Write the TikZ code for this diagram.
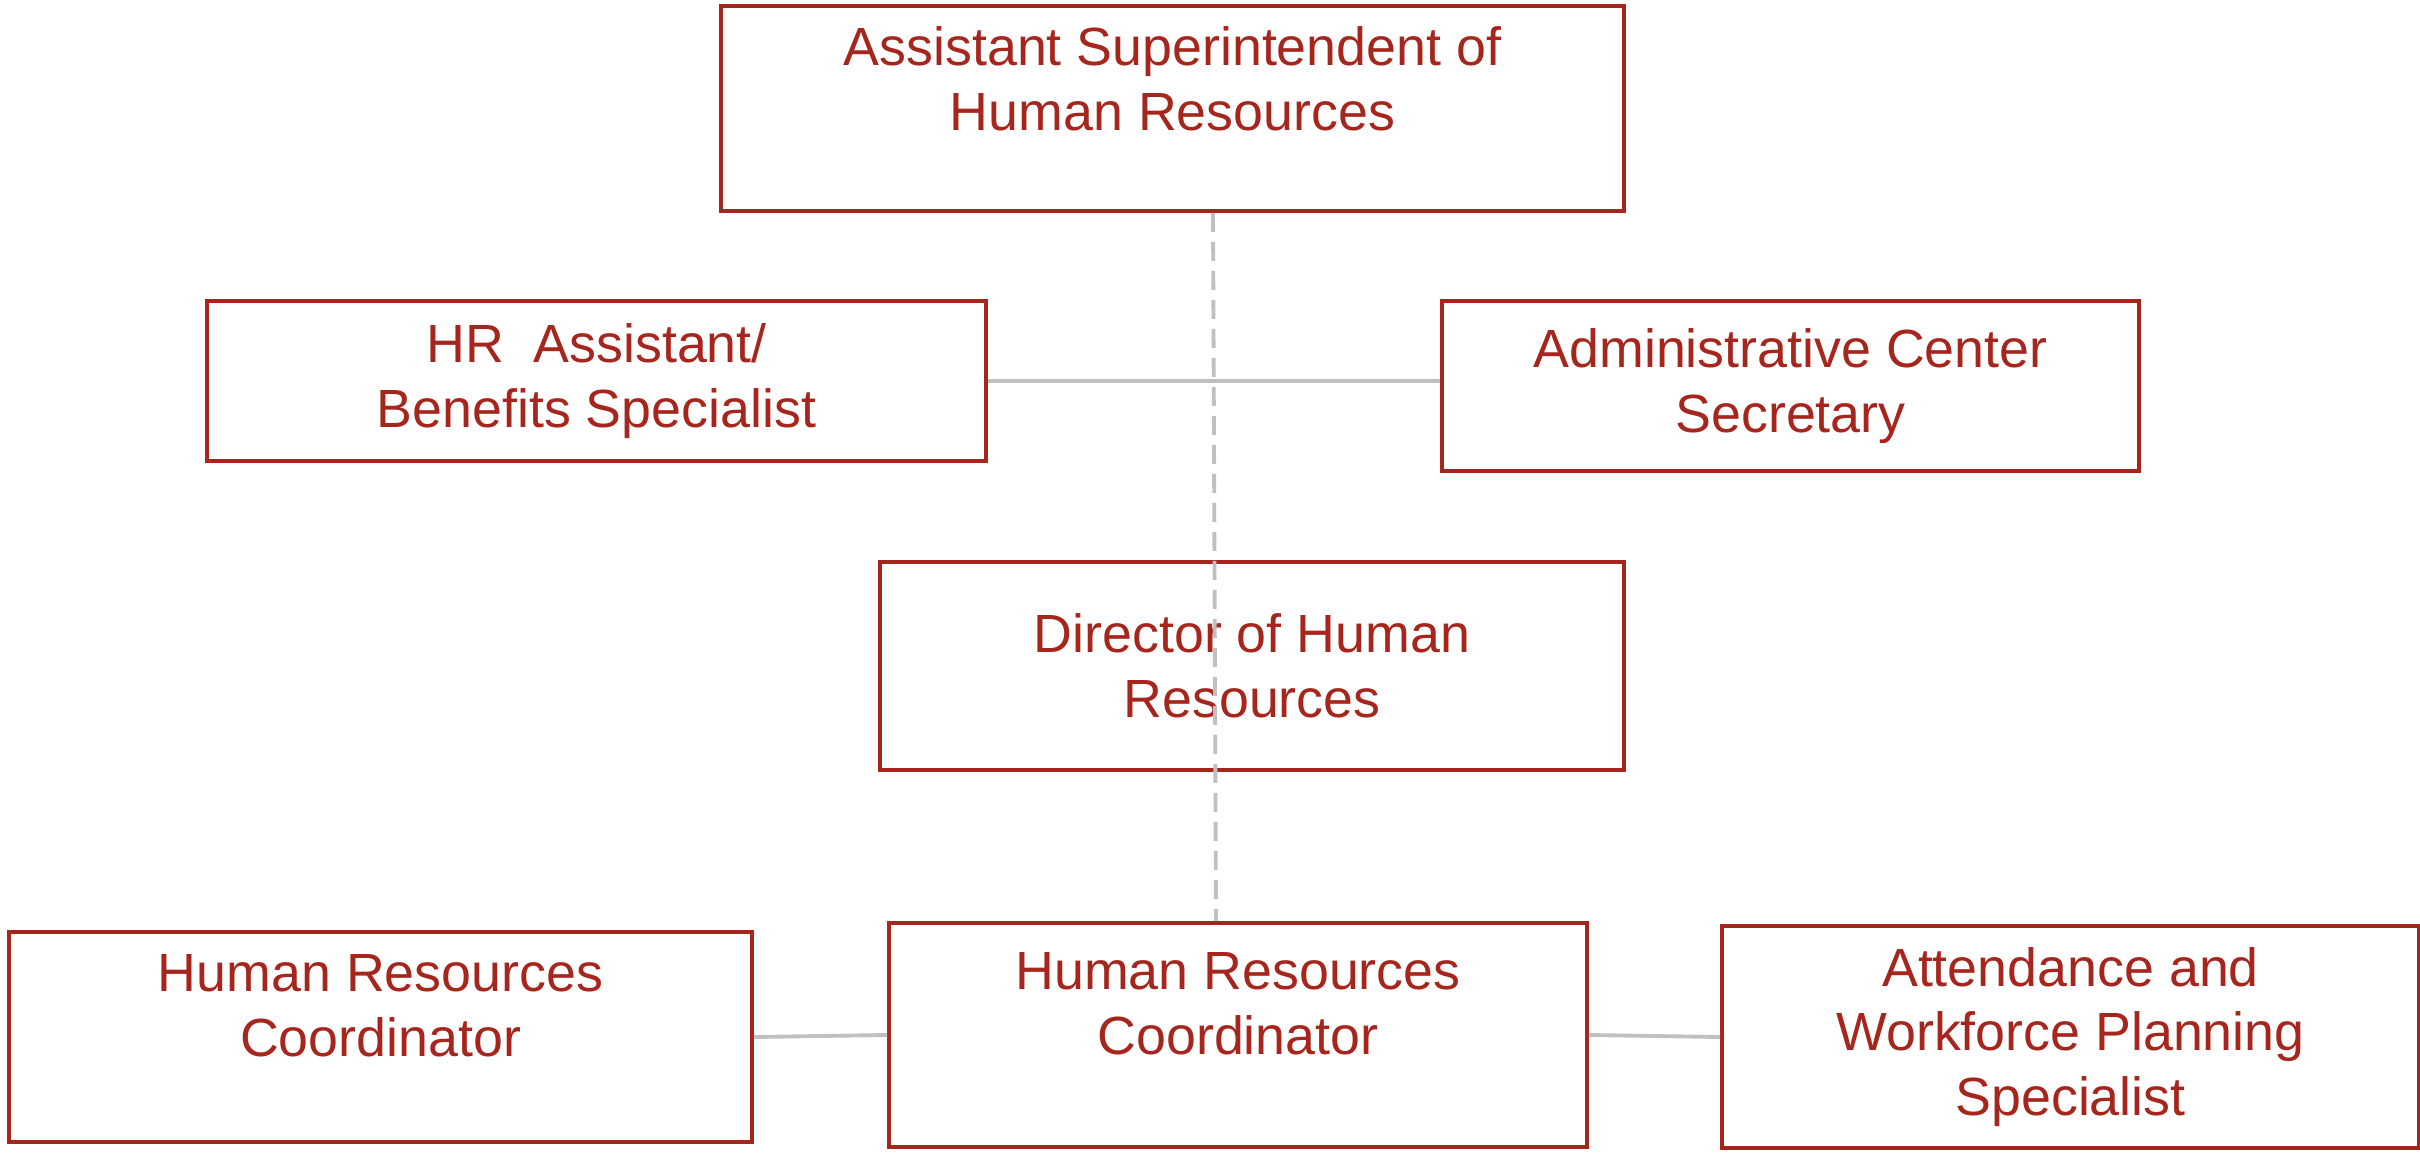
\documentclass[tikz,border=0pt]{standalone}
\usepackage{fontspec}
\setmainfont{Liberation Sans}
\usetikzlibrary{positioning,calc}
\definecolor{hrred}{RGB}{166,38,30}
\definecolor{linkgray}{RGB}{192,192,192}

\begin{document}
\begin{tikzpicture}
  \useasboundingbox (0,0) rectangle (24.2,-11.55);
  \begin{scope}[
    every node/.style={
      draw=hrred,
      line width=1.1pt,
      inner sep=0pt,
    },
    ]
    \node[minimum width=9.03cm,minimum height=2.05cm] (asst) at (11.725,-1.085) {};
    \node[minimum width=7.79cm,minimum height=1.60cm] (benefits) at (5.965,-3.81) {};
    \node[minimum width=6.97cm,minimum height=1.70cm] (secretary) at (17.905,-3.86) {};
    \node[minimum width=7.44cm,minimum height=2.08cm] (director) at (12.52,-6.66) {};
    \node[minimum width=7.43cm,minimum height=2.10cm] (coord-left) at (3.805,-10.37) {};
    \node[minimum width=6.98cm,minimum height=2.24cm] (coord-mid) at (12.38,-10.35) {};
    \node[minimum width=6.97cm,minimum height=2.22cm] (attendance) at (20.705,-10.37) {};
  \end{scope}
  \begin{scope}[
    every node/.style={
      align=center,
      text=hrred,
      font=\fontsize{15.3}{18.4}\selectfont,
    },
    ]
    \node (asst-text) at ($(asst)+(0,0.30)$) {Assistant Superintendent of\\Human Resources};
    \node (benefits-text) at (benefits) {HR\ \ Assistant/\\Benefits Specialist};
    \node (secretary-text) at (secretary) {Administrative Center\\Secretary};
    \node (director-text) at (director) {Director of Human\\Resources};
    \node (coord-left-text) at ($(coord-left)+(0,0.315)$) {Human Resources\\Coordinator};
    \node (coord-mid-text) at ($(coord-mid)+(0,0.315)$) {Human Resources\\Coordinator};
    \node (attendance-text) at (attendance) {Attendance and\\Workforce Planning\\Specialist};
  \end{scope}
  \begin{scope}[
    every path/.style={draw=linkgray,line width=1.1pt},
    ]
    \path[dash pattern=on 0.19cm off 0.10cm]
    ($(asst.south)+(0.405,0)$) edge ($(coord-mid.north)+(-0.22,0)$);
    \path[line width=1.7pt]
    (benefits.east) edge (benefits.east -| secretary.west);
    \path
    (coord-left.east) edge (coord-mid.west)
    (coord-mid.east) edge (attendance.west);
  \end{scope}
\end{tikzpicture}
\end{document}
